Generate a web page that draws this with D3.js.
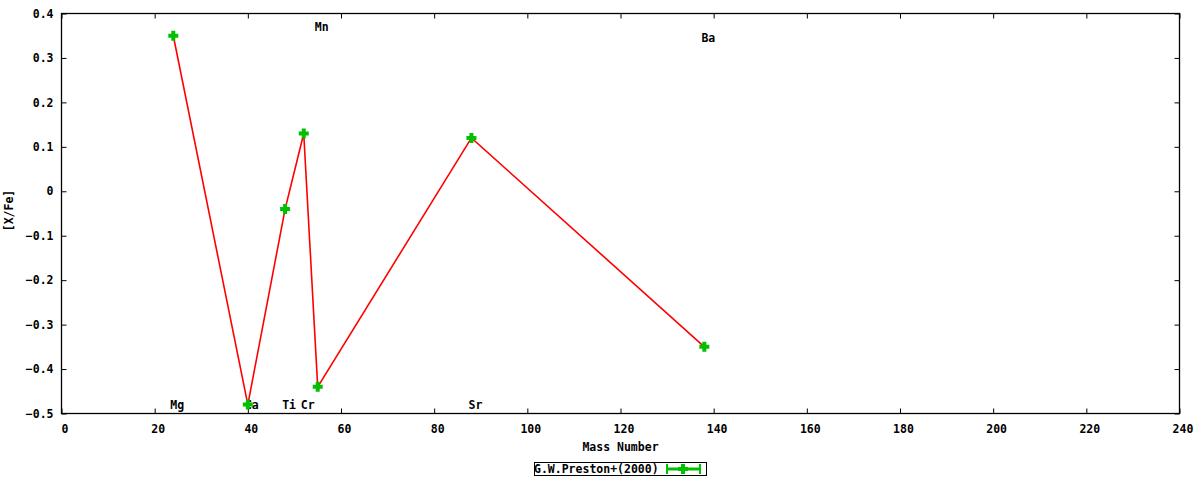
<!DOCTYPE html>
<html>
<head>
<meta charset="utf-8">
<script src="https://cdn.jsdelivr.net/npm/d3@7"></script>
<style>
  html, body { margin: 0; padding: 0; background: #fff; }
  svg text { font-family: "DejaVu Sans Mono", "Liberation Mono", monospace; font-weight: bold; font-size: 11.5px; fill: #000; }
</style>
</head>
<body>
<svg id="chart" width="1200" height="480"></svg>
<script>
// ---- data ----
const massNumbers = [24, 40, 48, 52, 55, 88, 138];
const xFe = [0.35, -0.48, -0.04, 0.13, -0.44, 0.12, -0.35];
const elementLabels = ["Mg", "Ca", "Ti", "Cr", "Mn", "Sr", "Ba"];
const labelMass = [24, 40, 48, 52, 55, 88, 138];
const labelY = [-0.48, -0.48, -0.48, -0.48, 0.37, -0.48, 0.345];
const xTicks = [0, 20, 40, 60, 80, 100, 120, 140, 160, 180, 200, 220, 240];
const yTicks = [-0.5, -0.4, -0.3, -0.2, -0.1, 0, 0.1, 0.2, 0.3, 0.4];
const seriesName = "G.W.Preston+(2000)";

const svg = d3.select("#chart");
const L = 61.5, R = 1179.5, T = 13.5, B = 413.5;
const x = d3.scaleLinear().domain([0, 240]).range([L, R]);
const y = d3.scaleLinear().domain([-0.5, 0.4]).range([B, T]);

const fmtY = d => d === 0 ? "0" : d3.format(".1f")(d);

// axes
const gx = svg.append("g").attr("transform", `translate(0,${B})`)
  .call(d3.axisBottom(x).tickValues(xTicks).tickSizeInner(-5).tickSizeOuter(0).tickPadding(11).tickFormat(d3.format("d")));
const gxt = svg.append("g").attr("transform", `translate(0,${T})`)
  .call(d3.axisTop(x).tickValues(xTicks).tickSizeInner(-5).tickSizeOuter(0).tickFormat(""));
const gy = svg.append("g").attr("transform", `translate(${L},0)`)
  .call(d3.axisLeft(y).tickValues(yTicks).tickSizeInner(-5).tickSizeOuter(0).tickPadding(8).tickFormat(fmtY));
const gyr = svg.append("g").attr("transform", `translate(${R},0)`)
  .call(d3.axisRight(y).tickValues(yTicks).tickSizeInner(-5).tickSizeOuter(0).tickFormat(""));
[gx, gxt, gy, gyr].forEach(g => {
  g.select(".domain").remove();
  g.selectAll(".tick line").attr("stroke", "#000").attr("stroke-width", 1);
  g.selectAll("text").attr("font-family", null).attr("font-size", null);
});
gx.selectAll(".tick text").attr("dx", 3);

// frame
svg.append("rect").attr("x", L).attr("y", T).attr("width", R - L).attr("height", B - T)
  .attr("fill", "none").attr("stroke", "#000").attr("stroke-width", 1.3);

// axis titles
svg.append("text").attr("x", (L + R) / 2).attr("y", 451).attr("text-anchor", "middle").text("Mass Number");
svg.append("text").attr("transform", `translate(13,${(T + B) / 2 - 3}) rotate(-90)`).attr("text-anchor", "middle").text("[X/Fe]");

// element labels
svg.append("g").selectAll("text").data(elementLabels).join("text")
  .attr("x", (d, i) => x(labelMass[i]) + 4)
  .attr("y", (d, i) => y(labelY[i]) + 4)
  .attr("text-anchor", "middle")
  .text(d => d);

// line
const pts = massNumbers.map((m, i) => [m, xFe[i]]);
svg.append("path").datum(pts)
  .attr("d", d3.line().x(d => x(d[0])).y(d => y(d[1])))
  .attr("fill", "none").attr("stroke", "#ff0000").attr("stroke-width", 1.6);

// markers (plus)
const plusPath = "M-5,-2H-2V-5H2V-2H5V2H2V5H-2V2H-5Z";
svg.append("g").selectAll("path").data(pts).join("path")
  .attr("transform", d => `translate(${x(d[0])},${y(d[1])})`)
  .attr("d", plusPath).attr("fill", "#00c000");

// legend
const lg = svg.append("g");
lg.append("rect").attr("x", 534.5).attr("y", 462.5).attr("width", 172).attr("height", 13)
  .attr("fill", "#fff").attr("stroke", "#000").attr("stroke-width", 1);
lg.append("text").attr("x", 534).attr("y", 473).text(seriesName);
const gc = "#00c000";
lg.append("line").attr("x1", 666).attr("x2", 701).attr("y1", 469).attr("y2", 469).attr("stroke", gc).attr("stroke-width", 3);
lg.append("line").attr("x1", 667).attr("x2", 667).attr("y1", 464).attr("y2", 474).attr("stroke", gc).attr("stroke-width", 2);
lg.append("line").attr("x1", 700).attr("x2", 700).attr("y1", 464).attr("y2", 474).attr("stroke", gc).attr("stroke-width", 2);
lg.append("path").attr("transform", "translate(683,469)").attr("d", plusPath).attr("fill", gc);
</script>
</body>
</html>
